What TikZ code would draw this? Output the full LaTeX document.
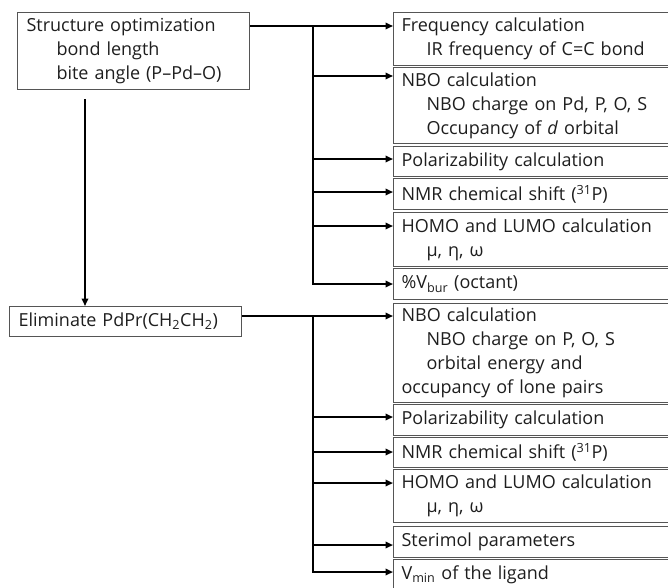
\documentclass[tikz,border=0pt]{standalone}
\usepackage{fontspec}
\setmainfont{Open Sans}
\usetikzlibrary{arrows.meta,calc}
\definecolor{boxgray}{HTML}{555555}
\definecolor{txtgray}{HTML}{1E1E1E}
\begin{document}
\begin{tikzpicture}[x=1pt,y=-1pt,
  box/.style={draw=boxgray,line width=1.1pt,rectangle,inner xsep=8pt,inner ysep=0pt,
    align=left,anchor=north west,text=txtgray,font=\fontsize{18}{24}\selectfont},
  rbox/.style={box,text width=266pt},
  conn/.style={line width=1.8pt,black},
  arr/.style={conn,-{Triangle[length=7.5pt,width=6.5pt]}}
]
\useasboundingbox (0,0) rectangle (668,587);
\newcommand{\ind}{\hspace*{25pt}}
% left boxes
\node[box,inner xsep=9pt,text width=214pt,minimum height=77pt] (s) at (17,12)
  {Structure optimization\\\hspace*{30pt}bond length\\\hspace*{30pt}bite angle (P–Pd–O)};
\node[box,inner xsep=9pt,text width=214pt,minimum height=30pt] (e) at (9,306)
  {Eliminate PdPr(CH\textsubscript{2}CH\textsubscript{2})};
% right boxes, group 1
\node[rbox,minimum height=53pt] (f1) at (393,12) {Frequency calculation\\\ind IR frequency of C=C bond};
\node[rbox,minimum height=76pt] (f2) at (393,67) {NBO calculation\\\ind NBO charge on Pd, P, O, S\\\ind Occupancy of \textit{d} orbital};
\node[rbox,minimum height=30pt] (f3) at (393,146) {Polarizability calculation};
\node[rbox,minimum height=31pt] (f4) at (393,178) {NMR chemical shift (\textsuperscript{31}P)};
\node[rbox,minimum height=54pt] (f5) at (393,212) {HOMO and LUMO calculation\\\ind μ, η, ω};
\node[rbox,minimum height=31pt] (f6) at (393,268) {\%V\textsubscript{bur} (octant)};
% right boxes, group 2
\node[rbox,minimum height=99pt] (g1) at (393,303) {NBO calculation\\\ind NBO charge on P, O, S\\\ind orbital energy and\\occupancy of lone pairs};
\node[rbox,minimum height=31pt] (g2) at (393,404) {Polarizability calculation};
\node[rbox,minimum height=30pt] (g3) at (393,437) {NMR chemical shift (\textsuperscript{31}P)};
\node[rbox,minimum height=53pt] (g4) at (393,469) {HOMO and LUMO calculation\\\ind μ, η, ω};
\node[rbox,minimum height=31pt] (g5) at (393,526) {Sterimol parameters};
\node[rbox,minimum height=30pt] (g6) at (393,559) {V\textsubscript{min} of the ligand};
% connection points
\coordinate (bx) at (313,0);
\coordinate (vx) at (85,0);
\coordinate (sa) at ($(s.north east)+(0,14)$);
\coordinate (f1a) at ($(f1.north west)+(0,14)$);
\coordinate (f2a) at ($(f2.north west)+(0,9)$);
\coordinate (f3a) at ($(f3.north west)+(0,13)$);
\coordinate (f4a) at ($(f4.north west)+(0,14)$);
\coordinate (f5a) at ($(f5.north west)+(0,14)$);
\coordinate (f6a) at ($(f6.north west)+(0,16)$);
\coordinate (ea) at ($(e.north east)+(0,10)$);
\coordinate (g1a) at ($(g1.north west)+(0,13)$);
\coordinate (g2a) at ($(g2.north west)+(0,13)$);
\coordinate (g3a) at ($(g3.north west)+(0,15)$);
\coordinate (g4a) at ($(g4.north west)+(0,14)$);
\coordinate (g5a) at ($(g5.north west)+(0,19)$);
\coordinate (g6a) at ($(g6.north west)+(0,13)$);
% group 1 connectors
\draw[arr] (sa) -- (f1a);
\draw[arr] (sa -| bx) |- (f6a);
\draw[arr] (f2a -| bx) -- (f2a);
\draw[arr] (f3a -| bx) -- (f3a);
\draw[arr] (f4a -| bx) -- (f4a);
\draw[arr] (f5a -| bx) -- (f5a);
% group 2 connectors
\draw[arr] (ea) -- (g1a);
\draw[arr] (ea -| bx) |- (g6a);
\draw[arr] (g2a -| bx) -- (g2a);
\draw[arr] (g3a -| bx) -- (g3a);
\draw[arr] (g4a -| bx) -- (g4a);
\draw[arr] (g5a -| bx) -- (g5a);
% vertical arrow
\draw[arr] ($(s.south -| vx)+(0,9)$) -- (e.north -| vx);
\end{tikzpicture}
\end{document}
